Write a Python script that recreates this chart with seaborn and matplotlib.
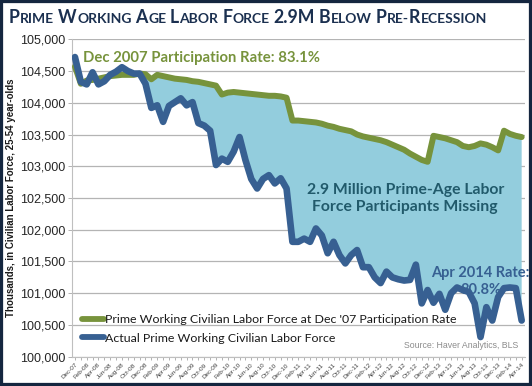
import numpy as np
import pandas as pd
import matplotlib
matplotlib.use("Agg")
import matplotlib.pyplot as plt
import seaborn as sns
from matplotlib.lines import Line2D
from matplotlib.patches import Rectangle

# ---- data (thousands) ----
months = pd.date_range("2007-12-01", "2014-04-01", freq="MS")
tick_labels = [d.strftime("%b-%y") for d in months][::2]

actual = [104720, 104330, 104290, 104480, 104290, 104340, 104440, 104490, 104560, 104500,
          104460, 104460, 104300, 103920, 103960, 103700, 103950, 104010, 104070, 103960,
          104010, 103680, 103640, 103560, 103020, 103120, 103070, 103230, 103460, 103100,
          102800, 102650, 102800, 102860, 102730, 102810, 102650, 101810, 101810, 101860,
          101810, 102020, 101910, 101630, 101810, 101600, 101470, 101600, 101680, 101410,
          101410, 101250, 101160, 101340, 101250, 101220, 101200, 101210, 101450, 100840,
          101050, 100850, 100990, 100740, 101000, 101090, 101050, 101020, 100840, 100310,
          100780, 100570, 100940, 101080, 101090, 101080, 100570]

at_dec07_rate = [104570, 104300, 104350, 104360, 104380, 104400, 104420, 104430, 104440, 104440,
                 104440, 104460, 104450, 104370, 104440, 104420, 104400, 104380, 104370, 104360,
                 104340, 104330, 104310, 104290, 104270, 104130, 104160, 104170, 104160, 104150,
                 104140, 104130, 104120, 104110, 104110, 104100, 104080, 103720, 103720, 103710,
                 103700, 103690, 103670, 103640, 103620, 103590, 103570, 103550, 103500, 103470,
                 103450, 103430, 103410, 103380, 103340, 103300, 103260, 103200, 103150, 103100,
                 103070, 103480, 103460, 103440, 103410, 103380, 103320, 103300, 103320, 103360,
                 103340, 103300, 103250, 103560, 103510, 103480, 103460]

y_ticks = [100000, 100500, 101000, 101500, 102000, 102500, 103000, 103500, 104000, 104500, 105000]

GREEN = "#77933C"
BLUE = "#376092"
FILL = "#93CDDD"
NAVY = "#1B3050"

sns.set_theme(style="white")
plt.rcParams["font.family"] = ["Liberation Sans", "DejaVu Sans"]

df = pd.DataFrame({"i": np.arange(len(actual)), "actual": actual, "green": at_dec07_rate})

W, H = 532, 386
fig = plt.figure(figsize=(W / 100, H / 100), dpi=100)
fig.patch.set_facecolor("white")
ax = fig.add_axes([72 / W, 1 - 356.7 / H, (524.6 - 72) / W, (356.7 - 39.3) / H])

ax.fill_between(df["i"], df["actual"], df["green"], where=df["green"] >= df["actual"],
                interpolate=True, color=FILL, lw=0, zorder=1)
sns.lineplot(data=df, x="i", y="green", ax=ax, color=GREEN, lw=4.3, zorder=3,
             solid_capstyle="round", solid_joinstyle="round")
sns.lineplot(data=df, x="i", y="actual", ax=ax, color=BLUE, lw=4.8, zorder=4,
             solid_capstyle="round", solid_joinstyle="round")

ax.set_xlim(-0.5, len(actual) - 0.5)
ax.set_ylim(100000, 105000)
ax.set_yticks(y_ticks)
ax.set_yticklabels([f"{v:,}" for v in y_ticks], fontsize=9, color="#262626")
ax.set_xticks(np.arange(0, len(actual), 2))
ax.set_xticklabels(tick_labels, rotation=45, ha="right", rotation_mode="anchor",
                   fontsize=4.6, color="#404040")
ax.set_xticks(np.arange(len(actual)), minor=True)
ax.tick_params(axis="x", which="both", bottom=True, length=2.5, width=0.6, color="#A6A6A6", pad=1.5)
ax.tick_params(axis="y", left=True, length=3, width=0.6, color="#A6A6A6", pad=2)
ax.grid(axis="y", color="#B4B4B4", lw=0.9, zorder=0)
ax.set_axisbelow(True)
for s in ["top", "right"]:
    ax.spines[s].set_visible(False)
for s in ["left", "bottom"]:
    ax.spines[s].set_color("#BFBFBF")
    ax.spines[s].set_linewidth(0.8)
ax.set_xlabel("")
ax.set_ylabel("Thousands, in Civilian Labor Force, 25-54 year-olds", fontsize=7,
              fontweight="bold", color="#1A1A1A")
ax.yaxis.set_label_coords(-0.123, 0.5)

# legend
handles = [Line2D([0], [0], color=GREEN, lw=4.2, solid_capstyle="round"),
           Line2D([0], [0], color=BLUE, lw=4.2, solid_capstyle="round")]
leg = ax.legend(handles, ["Prime Working Civilian Labor Force at Dec '07 Participation Rate",
                          "Actual Prime Working Civilian Labor Force"],
                loc="lower left", bbox_to_anchor=(0.012, 0.025), frameon=False,
                prop={"family": "Lato", "size": 8.9}, handlelength=1.75, handletextpad=0.1,
                labelspacing=0.6, borderaxespad=0)
for t in leg.get_texts():
    t.set_color("#1A1A1A")

# annotations
ax.text(1.4, 104700, "Dec 2007 Participation Rate: 83.1%", color=GREEN, fontsize=10.7,
        fontweight="bold", family="Lato", va="center", ha="left", zorder=5)
ax.text(56.2, 102490, "2.9 Million Prime-Age Labor\nForce Participants Missing", color="#215A6B",
        fontsize=11.3, fontweight="bold", family="Lato", va="center", ha="center",
        linespacing=1.3, zorder=5)
ax.text(69.0, 101190, "Apr 2014 Rate:\n80.8%", color=BLUE, fontsize=10.5, fontweight="bold",
        family="Lato", va="center", ha="center", linespacing=1.25, zorder=5)
ax.text(0.985, 0.035, "Source: Haver Analytics, BLS", transform=ax.transAxes, ha="right",
        va="center", fontsize=6.3, color="#8C8C8C", zorder=5)

# title in faux small caps
pieces = [("P", 1), ("RIME", 0), (" ", 0), ("W", 1), ("ORKING", 0), (" ", 0), ("A", 1), ("GE", 0),
          (" ", 0), ("L", 1), ("ABOR", 0), (" ", 0), ("F", 1), ("ORCE", 0), (" ", 0), ("2.9M", 1),
          (" ", 0), ("B", 1), ("ELOW", 0), (" ", 0), ("P", 1), ("RE-", 0), ("R", 1), ("ECESSION", 0)]
renderer = fig.canvas.get_renderer()


def draw_title(big, small, space, x0, ybase, draw=True):
    x = x0
    made = []
    for txt, isbig in pieces:
        if txt == " ":
            x += space
            continue
        t = fig.text(x / W, ybase / H, txt, fontsize=big if isbig else small, fontweight="bold",
                     family="Lato", color=NAVY, va="baseline", ha="left")
        bb = t.get_window_extent(renderer)
        x += bb.width + 0.3
        made.append(t)
    if not draw:
        for t in made:
            t.remove()
    return x - x0


base_big, base_small, base_space = 14.5, 11.3, 4.0
total = draw_title(base_big, base_small, base_space, 9, H - 23, draw=False)
k = 479.0 / total
draw_title(base_big * k, base_small * k, base_space * k, 9, H - 23, draw=True)

# dark frame
fig.patches.append(Rectangle((0, 0), 1, 1, transform=fig.transFigure, fill=False,
                             edgecolor="#14263F", lw=4.5, zorder=10))

fig.savefig("out.png", dpi=100)
